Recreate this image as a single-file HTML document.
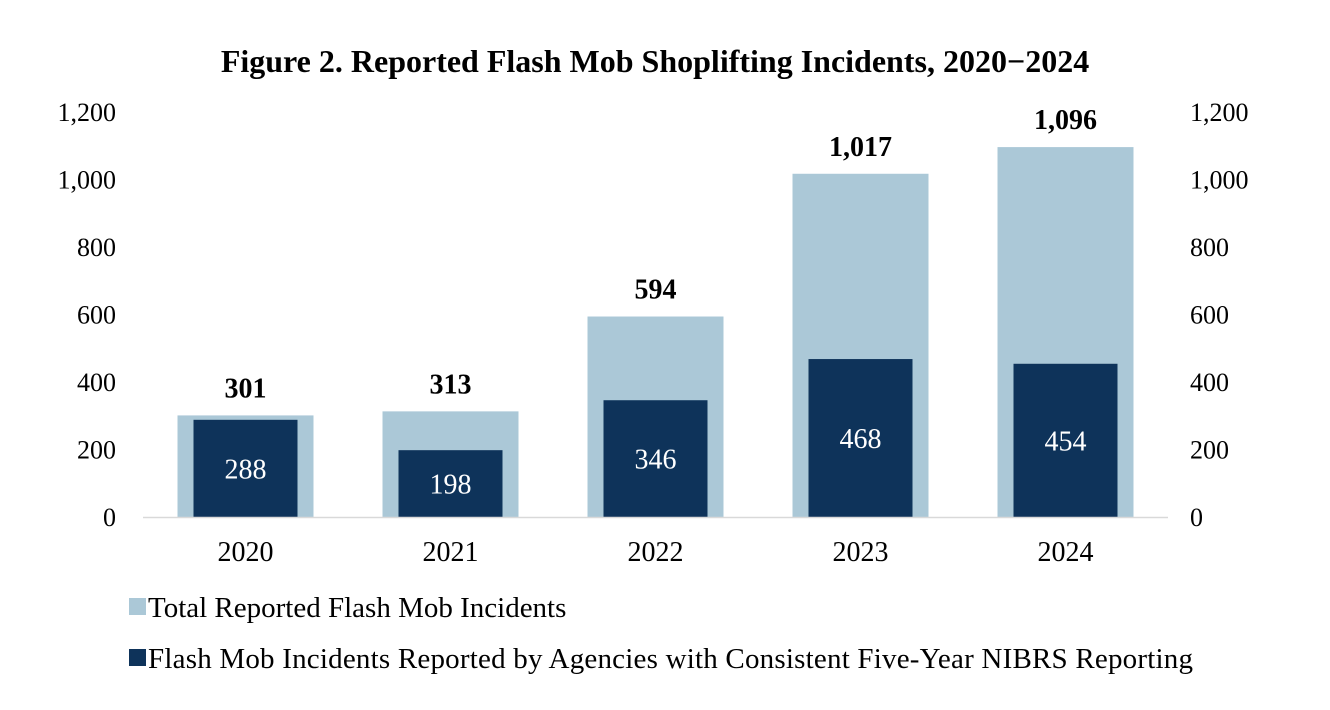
<!DOCTYPE html>
<html><head><meta charset="utf-8"><style>
body{margin:0;background:#fff;}
svg{display:block;font-family:"Liberation Serif",serif;}
</style></head><body>
<svg id="chart" width="1330" height="710">
<text x="655" y="72" text-anchor="middle" font-size="32" font-weight="bold" fill="#000">Figure 2. Reported Flash Mob Shoplifting Incidents, 2020−2024</text>
<g id="axes"></g>
<g id="bars"></g>
<g>
<rect x="129" y="598" width="17" height="17" fill="#abc8d7"/>
<text x="148" y="617" font-size="29" fill="#000">Total Reported Flash Mob Incidents</text>
<rect x="129" y="649" width="17" height="17" fill="#0e335a"/>
<text x="148" y="668" font-size="29" textLength="1045" fill="#000">Flash Mob Incidents Reported by Agencies with Consistent Five-Year NIBRS Reporting</text>
</g>
</svg>
<script>
const categories = ["2020","2021","2022","2023","2024"];
const totalValues = [301,313,594,1017,1096];
const consistentValues = [288,198,346,468,454];
const yTicks = [0,200,400,600,800,1000,1200];
const yTickLabels = ["0","200","400","600","800","1,000","1,200"];
const totalLabels = ["301","313","594","1,017","1,096"];

const NS="http://www.w3.org/2000/svg";
const x0=143,x1=1168,yBase=517,yTop=112,yMax=1200;
const band=(x1-x0)/categories.length;
const xC=i=>x0+band*(i+0.5);
const y=v=>yBase-(v/yMax)*(yBase-yTop);
function mk(tag,attrs,parent,text){const e=document.createElementNS(NS,tag);for(const k in attrs)e.setAttribute(k,attrs[k]);if(text!==undefined)e.textContent=text;parent.appendChild(e);return e;}
const axes=document.getElementById('axes'),bars=document.getElementById('bars');
yTicks.forEach((t,i)=>{
 const l=mk('text',{x:116,y:y(t)+9,'text-anchor':'end','font-size':26,fill:'#000'},axes,yTickLabels[i]);
 
 
 const r=mk('text',{x:1190,y:y(t)+9,'text-anchor':'start','font-size':26,fill:'#000'},axes,yTickLabels[i]);
 
 
});
categories.forEach((c,i)=>{
 const cx=xC(i);
 const tb=mk('rect',{x:cx-68,y:y(totalValues[i]),width:136,height:yBase-y(totalValues[i]),fill:'#abc8d7'},bars);
 
 
 const db=mk('rect',{x:cx-52,y:y(consistentValues[i]),width:104,height:yBase-y(consistentValues[i]),fill:'#0e335a'},bars);
 
 
 const tl=mk('text',{x:cx,y:y(totalValues[i])-18,'text-anchor':'middle','font-size':28,'font-weight':'bold',fill:'#000'},bars,totalLabels[i]);
 
 
 const dl=mk('text',{x:cx,y:(y(consistentValues[i])+yBase)/2+10,'text-anchor':'middle','font-size':28,fill:'#fff'},bars,String(consistentValues[i]));
 
 
 const xl=mk('text',{x:cx,y:561,'text-anchor':'middle','font-size':28,fill:'#000'},axes,c);
 
 
});
const ax=mk('line',{x1:x0,x2:x1,y1:yBase+0.5,y2:yBase+0.5,stroke:'#d9d9d9','stroke-width':1.5},bars);


</script>
</body></html>
